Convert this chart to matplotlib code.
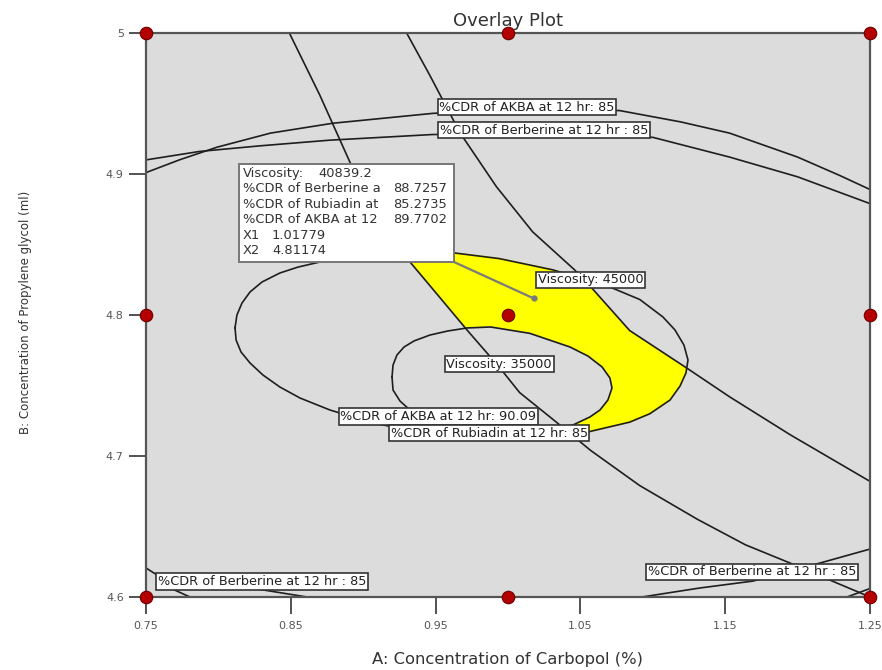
import matplotlib
matplotlib.use("Agg")
import matplotlib.pyplot as plt
from matplotlib.patches import Polygon, Rectangle

# design points (A: Carbopol %, B: Propylene glycol ml)
design_a = [0.75, 1.0, 1.25, 0.75, 1.0, 1.25, 0.75, 1.0, 1.25]
design_b = [4.6, 4.6, 4.6, 4.8, 4.8, 4.8, 5.0, 5.0, 5.0]

# contour traces, A values then B values
rubiadin_a = [0.849, 0.870, 0.891, 0.912, 0.932, 0.950, 0.972, 0.994, 1.008,
              1.031, 1.057, 1.091, 1.131, 1.164, 1.195, 1.220, 1.250]
rubiadin_b = [5.000, 4.956, 4.908, 4.871, 4.838, 4.816, 4.789, 4.763, 4.745,
              4.726, 4.704, 4.679, 4.655, 4.637, 4.624, 4.613, 4.600]

akba90_a = [0.930, 0.946, 0.967, 0.992, 1.017, 1.046, 1.058, 1.084, 1.124,
            1.153, 1.195, 1.250]
akba90_b = [5.000, 4.970, 4.929, 4.891, 4.859, 4.832, 4.819, 4.789, 4.762,
            4.742, 4.715, 4.682]

visc45_a = [0.8115, 0.8128, 0.8163, 0.8218, 0.8301, 0.8425, 0.8550, 0.8702,
            0.905, 0.939, 0.963, 0.994, 1.031, 1.070, 1.091, 1.107, 1.1153,
            1.1215, 1.1243, 1.1229, 1.1188, 1.1119, 1.098, 1.084, 1.055, 1.022,
            0.981, 0.939, 0.9068, 0.8771, 0.8564, 0.8425, 0.8308, 0.8218,
            0.8156, 0.8122, 0.8115]
visc45_b = [4.791, 4.800, 4.8085, 4.8163, 4.8234, 4.8298, 4.834, 4.8376,
            4.842, 4.844, 4.844, 4.840, 4.832, 4.820, 4.811, 4.7986, 4.7894,
            4.7787, 4.7681, 4.7589, 4.7496, 4.7397, 4.730, 4.724, 4.717, 4.713,
            4.713, 4.717, 4.7234, 4.7326, 4.7411, 4.7489, 4.7574, 4.766,
            4.7738, 4.7823, 4.791]

visc35_a = [0.9199, 0.9206, 0.9233, 0.9282, 0.9351, 0.9461, 0.9586, 0.9717,
            0.988, 1.015, 1.0428, 1.0552, 1.065, 1.0704, 1.0718, 1.069, 1.0635,
            1.0566, 1.0449, 1.026, 0.994, 0.960, 0.9461, 0.9323, 0.9254,
            0.9206, 0.9199]
visc35_b = [4.756, 4.7645, 4.7716, 4.7773, 4.7816, 4.7858, 4.7887, 4.7908,
            4.7915, 4.787, 4.7773, 4.7709, 4.7631, 4.7553, 4.7482, 4.7397,
            4.7326, 4.7277, 4.722, 4.717, 4.716, 4.720, 4.7255, 4.7326, 4.739,
            4.7468, 4.756]

akba85_a = [0.750, 0.773, 0.799, 0.836, 0.879, 0.948, 1.008, 1.077, 1.119,
            1.153, 1.200, 1.229, 1.250]
akba85_b = [4.901, 4.910, 4.919, 4.929, 4.936, 4.943, 4.946, 4.945, 4.937,
            4.929, 4.912, 4.899, 4.889]

berb_top_a = [0.750, 0.787, 0.829, 0.877, 0.948, 1.029, 1.100, 1.153, 1.200, 1.250]
berb_top_b = [4.910, 4.916, 4.920, 4.924, 4.928, 4.929, 4.926, 4.912, 4.898, 4.879]

berb_bl1_a = [0.750, 0.7576, 0.7666, 0.7804]
berb_bl1_b = [4.6206, 4.6156, 4.6064, 4.600]
berb_bl2_a = [0.787, 0.8267, 0.8612]
berb_bl2_b = [4.609, 4.6057, 4.600]
berb_br1_a = [1.0925, 1.1326, 1.1692, 1.2155, 1.250]
berb_br1_b = [4.600, 4.6064, 4.6113, 4.6241, 4.634]
berb_br2_a = [1.2341, 1.250]
berb_br2_b = [4.600, 4.606]

# flagged point
flag_x1 = 1.01779
flag_x2 = 4.81174
flag_names = ["Viscosity:", "%CDR of Berberine a", "%CDR of Rubiadin at",
              "%CDR of AKBA at 12", "X1", "X2"]
flag_values = ["40839.2", "88.7257", "85.2735", "89.7702", "1.01779", "4.81174"]

xticks = [0.75, 0.85, 0.95, 1.05, 1.15, 1.25]
yticks = [4.6, 4.7, 4.8, 4.9, 5.0]
ytick_labels = ["4.6", "4.7", "4.8", "4.9", "5"]

fig = plt.figure(figsize=(8.82, 6.7), dpi=100)
ax = fig.add_axes([146 / 882, 73 / 670, 724 / 882, 564 / 670])
ax.set_facecolor('#dcdcdc')
ax.set_xlim(0.75, 1.25)
ax.set_ylim(4.6, 5.0)

# sweet spot: inside viscosity 45000, outside 35000, between the two diagonals
band = Polygon(list(zip(rubiadin_a, rubiadin_b)) + list(zip(akba90_a, akba90_b))[::-1],
               closed=True, transform=ax.transData, facecolor='none', edgecolor='none')
ax.add_patch(band)
sweet = ax.fill(visc45_a, visc45_b, color='#ffff00', zorder=1)[0]
sweet.set_clip_path(band)
ax.fill(visc35_a, visc35_b, color='#dcdcdc', zorder=1.5)

line_kw = dict(color='#1e1e1e', lw=1.2, zorder=2)
for xs, ys in [(rubiadin_a, rubiadin_b), (akba90_a, akba90_b), (visc45_a, visc45_b),
               (visc35_a, visc35_b), (akba85_a, akba85_b), (berb_top_a, berb_top_b),
               (berb_bl1_a, berb_bl1_b), (berb_bl2_a, berb_bl2_b),
               (berb_br1_a, berb_br1_b), (berb_br2_a, berb_br2_b)]:
    ax.plot(xs, ys, **line_kw)

labels = [("%CDR of AKBA at 12 hr: 85", 1.013, 4.9475),
          ("%CDR of Berberine at 12 hr : 85", 1.025, 4.931),
          ("Viscosity: 45000", 1.057, 4.825),
          ("Viscosity: 35000", 0.994, 4.765),
          ("%CDR of AKBA at 12 hr: 90.09", 0.952, 4.728),
          ("%CDR of Rubiadin at 12 hr: 85", 0.987, 4.716),
          ("%CDR of Berberine at 12 hr : 85", 0.830, 4.611),
          ("%CDR of Berberine at 12 hr : 85", 1.1685, 4.618)]
for txt, lx, ly in labels:
    ax.text(lx, ly, txt, ha='center', va='center', fontsize=9.3, color='#222',
            zorder=4, bbox=dict(boxstyle='square,pad=0.12', fc='white',
                                ec='#333', lw=1.2))

# design points
ax.plot(design_a, design_b, 'o', ms=9, color='#b40000', mec='#6e0000', mew=0.8,
        clip_on=False, zorder=6)

# flag box with leader line
box_l, box_t, box_r, box_b = 0.8142, 4.907, 0.9627, 4.8376
ax.plot([box_r, flag_x1], [box_b, flag_x2], color='#7a7a7a', lw=1.6, zorder=5)
ax.plot([flag_x1], [flag_x2], 'o', ms=3.5, color='#7a7a7a', zorder=5)
ax.add_patch(Rectangle((box_l, box_b), box_r - box_l, box_t - box_b, fc='white',
                       ec='#777', lw=1.4, zorder=5))
row_step = 0.01106
value_x = [0.8688, 0.9206, 0.9206, 0.9206, 0.837, 0.837]
for i, (name, val) in enumerate(zip(flag_names, flag_values)):
    ty = 4.9007 - row_step * i
    ax.text(0.817, ty, name, ha='left', va='center', fontsize=9.4,
            color='#333', zorder=6)
    ax.text(value_x[i], ty, val, ha='left', va='center', fontsize=9.4,
            color='#333', zorder=6)

ax.set_xticks(xticks)
ax.set_xticklabels([f"{t:.2f}" for t in xticks])
ax.set_yticks(yticks)
ax.set_yticklabels(ytick_labels)
ax.tick_params(direction='out', length=12, width=1.3, colors='#444',
               labelsize=8, labelcolor='#555')
ax.tick_params(axis='x', pad=5)
ax.tick_params(axis='y', pad=4)
for s in ax.spines.values():
    s.set_color('#555')
    s.set_linewidth(1.6)

ax.set_title("Overlay Plot", fontsize=13, color='#333', pad=5)
ax.set_xlabel("A: Concentration of Carbopol (%)", fontsize=11.8, color='#333')
ax.xaxis.set_label_coords(0.5, -0.098)
ax.set_ylabel("B: Concentration of Propylene glycol (ml)", fontsize=8.5, color='#333')
ax.yaxis.set_label_coords(-0.157, 0.505)

fig.savefig("out.png", dpi=100)
